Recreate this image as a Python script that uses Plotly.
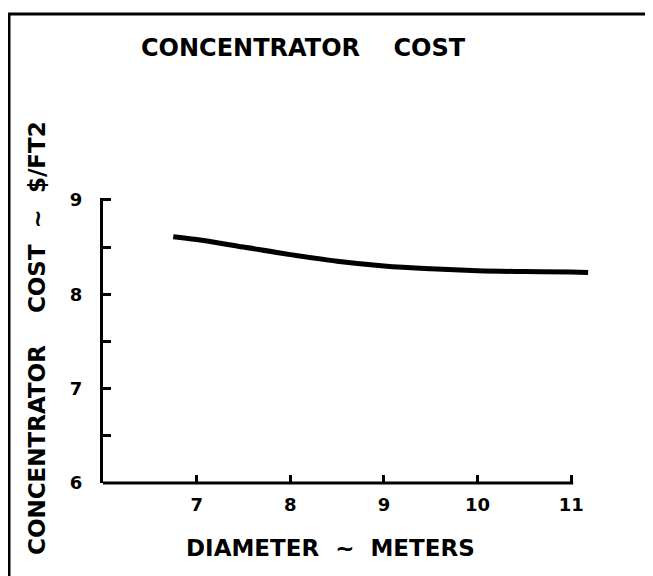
import plotly.graph_objects as go

# Data
diameter_m = [6.75, 7.0, 7.5, 8.0, 8.5, 9.0, 9.5, 10.0, 10.5, 11.0, 11.18]
cost_per_ft2 = [8.61, 8.58, 8.50, 8.42, 8.35, 8.30, 8.27, 8.25, 8.24, 8.235, 8.23]

x_tick_vals = [7, 8, 9, 10, 11]
x_tick_text = ["<b>7</b>", "<b>8</b>", "<b>9</b>", "<b>10</b>", "<b>11</b>"]
y_tick_vals = [6, 6.5, 7, 7.5, 8, 8.5, 9]
y_tick_text = ["<b>6</b>", "", "<b>7</b>", "", "<b>8</b>", "", "<b>9</b>"]

FONT = "DejaVu Sans, sans-serif"
INK = "#000000"

OFF = 8  # page body margin: reference pixel = figure pixel + OFF
W, H = 653 - OFF, 576 - OFF
L, T = 103 - OFF, 198 - OFF
R = W - (590 - OFF)
B = H - (483 - OFF)
pw, ph = W - L - R, H - T - B

def px(x):  # reference pixel x -> paper
    return (x - OFF - L) / pw

def py(y):  # reference pixel y -> paper
    return (H - B - (y - OFF)) / ph

fig = go.Figure()
fig.add_trace(go.Scatter(
    x=diameter_m, y=cost_per_ft2, mode="lines",
    line=dict(color=INK, width=5, shape="spline"),
    hoverinfo="skip", showlegend=False,
))

fig.update_layout(
    width=W, height=H,
    margin=dict(l=L, r=R, t=T, b=B),
    paper_bgcolor="white", plot_bgcolor="white",
    font=dict(family=FONT, color=INK),
    xaxis=dict(
        range=[6, 11.2], showgrid=False, zeroline=False, showline=False,
        tickvals=x_tick_vals, ticktext=x_tick_text,
        ticks="inside", ticklen=8, tickwidth=2.5, tickcolor=INK,
        tickfont=dict(size=18, family=FONT, color=INK),
        ticklabelstandoff=9,
    ),
    yaxis=dict(
        range=[6, 9.02], showgrid=False, zeroline=False,
        showline=True, linecolor=INK, linewidth=3,
        tickvals=y_tick_vals, ticktext=y_tick_text,
        ticks="inside", ticklen=8, tickwidth=2.5, tickcolor=INK,
        tickfont=dict(size=18, family=FONT, color=INK),
        ticklabelstandoff=14,
    ),
    showlegend=False,
)

# x axis line (stops just past 11)
fig.add_shape(type="line", xref="x", yref="paper", x0=6, x1=11.02, y0=0, y1=0,
              line=dict(color=INK, width=3))
# outer frame (top and left edges)
fig.add_shape(type="line", xref="paper", yref="paper",
              x0=px(8), x1=px(660), y0=py(14), y1=py(14),
              line=dict(color=INK, width=3))
fig.add_shape(type="line", xref="paper", yref="paper",
              x0=px(9), x1=px(9), y0=py(14), y1=py(580),
              line=dict(color=INK, width=3))

fig.add_annotation(text="<b>CONCENTRATOR&nbsp;&nbsp;&nbsp;&nbsp;COST</b>",
                   xref="paper", yref="paper", x=px(303), y=py(48),
                   xanchor="center", yanchor="middle",
                   showarrow=False, font=dict(size=24, family=FONT, color=INK))
fig.add_annotation(text="<b>DIAMETER&nbsp;&nbsp;~&nbsp;&nbsp;METERS</b>",
                   xref="paper", yref="paper", x=px(330), y=py(548),
                   xanchor="center", yanchor="middle",
                   showarrow=False, font=dict(size=23, family=FONT, color=INK))
fig.add_annotation(text="<b>CONCENTRATOR&nbsp;&nbsp;&nbsp;&nbsp;COST&nbsp;&nbsp;~&nbsp;&nbsp;$/FT2</b>",
                   xref="paper", yref="paper", x=px(37), y=py(338),
                   xanchor="center", yanchor="middle",
                   textangle=-90, showarrow=False,
                   font=dict(size=23, family=FONT, color=INK))

fig.write_html("out.html")
